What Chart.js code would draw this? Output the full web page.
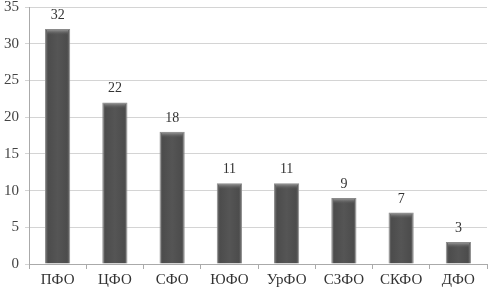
<!DOCTYPE html>
<html>
<head>
<meta charset="utf-8">
<script src="https://cdn.jsdelivr.net/npm/chart.js@4/dist/chart.umd.min.js"></script>
<style>
html,body{margin:0;padding:0;background:#fff;}
#wrap{width:492px;height:292px;position:relative;}
</style>
</head>
<body>
<div id="wrap"><canvas id="c" width="492" height="292"></canvas></div>
<script>
const categories = ['ПФО','ЦФО','СФО','ЮФО','УрФО','СЗФО','СКФО','ДФО'];
const values = [32, 22, 18, 11, 11, 9, 7, 3];
const yTicks = [0, 5, 10, 15, 20, 25, 30, 35];

const FONT = "'Liberation Serif', 'DejaVu Serif', serif";

const barStyle = {
  id: 'barStyle',
  beforeDatasetsDraw(chart) {
    const c = chart.ctx;
    chart.getDatasetMeta(0).data.forEach(el => {
      const l = el.x - el.width / 2, r = el.x + el.width / 2;
      const g = c.createLinearGradient(l, 0, r, 0);
      g.addColorStop(0, '#7a7a7a');
      g.addColorStop(0.12, '#4c4c4c');
      g.addColorStop(0.5, '#555555');
      g.addColorStop(0.88, '#4c4c4c');
      g.addColorStop(1, '#7a7a7a');
      el.options = Object.assign({}, el.options, { backgroundColor: g });
    });
  },
  afterDatasetsDraw(chart) {
    const c = chart.ctx;
    const meta = chart.getDatasetMeta(0);
    c.save();
    meta.data.forEach((el, i) => {
      const l = el.x - el.width / 2 + 2, w = el.width - 4;
      const g = c.createLinearGradient(0, el.y + 1, 0, el.y + 6);
      g.addColorStop(0, 'rgba(150,150,150,0.9)');
      g.addColorStop(1, 'rgba(90,90,90,0)');
      c.fillStyle = g;
      c.fillRect(l, el.y + 1, w, 5);
      c.fillStyle = '#333';
      c.font = '14px ' + FONT;
      c.textAlign = 'center';
      c.textBaseline = 'alphabetic';
      c.fillText(String(values[i]), el.x, el.y - 10);
    });
    c.restore();
  }
};

new Chart(document.getElementById('c'), {
  type: 'bar',
  data: {
    labels: categories,
    datasets: [{
      data: values,
      backgroundColor: '#555',
      borderColor: '#8a8a8a',
      borderWidth: 1,
      barPercentage: 0.44,
      categoryPercentage: 1.0
    }]
  },
  options: {
    responsive: false,
    animation: false,
    events: [],
    layout: { padding: { top: 7, right: 5, left: 0, bottom: 0 } },
    plugins: { legend: { display: false }, tooltip: { enabled: false } },
    scales: {
      x: {
        offset: true,
        grid: { display: true, drawOnChartArea: false, color: '#aaa', tickLength: 5, offset: true },
        border: { color: '#aaa' },
        ticks: { color: '#333', font: { family: FONT, size: 15 }, padding: 2 },
        afterFit(s) { s.height = 28; s.paddingLeft = 0; s.paddingRight = 0; }
      },
      y: {
        min: 0, max: 35,
        afterBuildTicks(s) { s.ticks = yTicks.map(v => ({ value: v })); },
        grid: { color: '#d4d4d4', tickLength: 4 },
        border: { color: '#aaa' },
        ticks: { color: '#444', font: { family: FONT, size: 15 }, padding: 6 },
        afterFit(s) { s.width = 29; s.paddingTop = 0; s.paddingBottom = 0; }
      }
    }
  },
  plugins: [barStyle]
});
</script>
</body>
</html>
